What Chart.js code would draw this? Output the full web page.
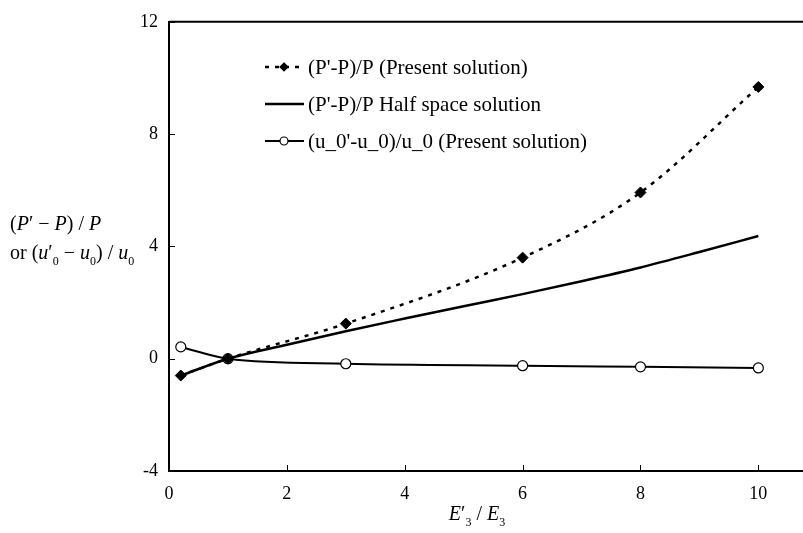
<!DOCTYPE html>
<html>
<head>
<meta charset="utf-8">
<script src="https://cdn.jsdelivr.net/npm/chart.js@4/dist/chart.umd.min.js"></script>
<style>
  html, body { margin: 0; padding: 0; background: #fff; overflow: hidden; }
  #wrap { width: 812px; height: 533px; }
</style>
</head>
<body>
<div id="wrap"><canvas id="chart"></canvas></div>
<script>
// data
const xPresent = [0.2, 1, 3, 6, 8, 10];
const pPresent = [-0.6, 0, 1.25, 3.6, 5.92, 9.68];
const uPresent = [0.42, 0, -0.18, -0.25, -0.29, -0.33];
const xHalf = [0.2, 1, 2, 3, 4, 5, 6, 7, 8, 9, 10];
const pHalf = [-0.6, 0, 0.5, 0.98, 1.43, 1.87, 2.3, 2.76, 3.25, 3.8, 4.37];
const xTicks = [0, 2, 4, 6, 8, 10];
const yTicks = [-4, 0, 4, 8, 12];
const legendLabels = [
  "(P'-P)/P (Present solution)",
  "(P'-P)/P Half space solution",
  "(u_0'-u_0)/u_0 (Present solution)"
];

const SERIF = '"Liberation Serif", "DejaVu Serif", serif';
const pts = (xs, ys) => xs.map((x, i) => ({ x: x, y: ys[i] }));

// draw a run of text pieces: [text, 'n' | 'i' | 'sub']
function drawRich(ctx, parts, x, y, size) {
  let cx = x;
  parts.forEach(([t, s]) => {
    const sub = s === 'sub';
    ctx.font = (s === 'i' ? 'italic ' : '') + (sub ? Math.round(size * 0.62) : size) + 'px ' + SERIF;
    ctx.fillText(t, cx, sub ? y + size * 0.28 : y);
    cx += ctx.measureText(t).width;
  });
  return cx - x;
}
function richWidth(ctx, parts, size) {
  let w = 0;
  parts.forEach(([t, s]) => {
    ctx.font = (s === 'i' ? 'italic ' : '') + (s === 'sub' ? Math.round(size * 0.62) : size) + 'px ' + SERIF;
    w += ctx.measureText(t).width;
  });
  return w;
}

const frame = {
  id: 'frame',
  afterDatasetsDraw(chart) {
    const { ctx, chartArea: a, scales } = chart;
    ctx.save();
    ctx.strokeStyle = '#000';
    ctx.lineWidth = 2;
    ctx.beginPath();
    ctx.moveTo(a.left, a.top);
    ctx.lineTo(a.right, a.top);
    ctx.stroke();
    // inward tick marks
    ctx.lineWidth = 1;
    ctx.beginPath();
    yTicks.forEach(v => {
      const y = Math.round(scales.y.getPixelForValue(v)) + 0.5;
      ctx.moveTo(a.left, y); ctx.lineTo(a.left + 6, y);
    });
    xTicks.forEach(v => {
      const x = Math.round(scales.x.getPixelForValue(v)) + 0.5;
      ctx.moveTo(x, a.bottom); ctx.lineTo(x, a.bottom - 6);
    });
    ctx.stroke();

    // legend
    ctx.fillStyle = '#000';
    ctx.textBaseline = 'middle';
    ctx.textAlign = 'left';
    const rows = [67, 104, 141];
    const ds = chart.data.datasets;
    rows.forEach((ry, i) => {
      const d = ds[i];
      ctx.strokeStyle = '#000';
      ctx.lineWidth = d.borderWidth;
      ctx.setLineDash(d.borderDash || []);
      ctx.beginPath();
      ctx.moveTo(265, ry); ctx.lineTo(304, ry);
      ctx.stroke();
      ctx.setLineDash([]);
      if (d.pointRadius > 0) {
        ctx.lineWidth = 1.2;
        ctx.fillStyle = d.pointBackgroundColor;
        ctx.beginPath();
        if (d.pointStyle === 'rectRot') {
          const r = 4;
          ctx.moveTo(284, ry - r); ctx.lineTo(284 + r, ry); ctx.lineTo(284, ry + r); ctx.lineTo(284 - r, ry);
          ctx.closePath();
        } else {
          ctx.arc(284, ry, 4, 0, Math.PI * 2);
        }
        ctx.fill(); ctx.stroke();
      }
      ctx.fillStyle = '#000';
      ctx.font = '21px ' + SERIF;
      ctx.fillText(d.label, 308, ry + 1);
    });

    // axis titles
    ctx.textBaseline = 'alphabetic';
    const l1 = [['(', 'n'], ['P', 'i'], ['\u2032', 'n'], [' \u2212 ', 'n'], ['P', 'i'], [') / ', 'n'], ['P', 'i']];
    const l2 = [['or (', 'n'], ['u', 'i'], ['\u2032', 'n'], ['0', 'sub'], [' \u2212 ', 'n'], ['u', 'i'], ['0', 'sub'], [') / ', 'n'], ['u', 'i'], ['0', 'sub']];
    drawRich(ctx, l1, 10, 230, 20);
    drawRich(ctx, l2, 10, 259, 20);
    const xt = [['E', 'i'], ['\u2032', 'n'], ['3', 'sub'], [' / ', 'n'], ['E', 'i'], ['3', 'sub']];
    const w = richWidth(ctx, xt, 20);
    drawRich(ctx, xt, 477 - w / 2, 520, 20);
    ctx.restore();
  }
};

new Chart(document.getElementById('chart'), {
  type: 'scatter',
  data: {
    datasets: [
      {
        label: legendLabels[0],
        data: pts(xPresent, pPresent),
        showLine: true,
        borderColor: '#000',
        borderWidth: 2.5,
        borderDash: [4, 6],
        cubicInterpolationMode: 'monotone',
        pointStyle: 'rectRot',
        pointRadius: 5.5,
        pointBackgroundColor: '#000',
        pointBorderColor: '#000',
        pointBorderWidth: 1
      },
      {
        label: legendLabels[1],
        data: pts(xHalf, pHalf),
        showLine: true,
        borderColor: '#000',
        borderWidth: 2.5,
        cubicInterpolationMode: 'monotone',
        pointRadius: 0
      },
      {
        label: legendLabels[2],
        data: pts(xPresent, uPresent),
        showLine: true,
        borderColor: '#000',
        borderWidth: 2,
        cubicInterpolationMode: 'monotone',
        pointStyle: 'circle',
        pointRadius: 5,
        pointBackgroundColor: '#fff',
        pointBorderColor: '#000',
        pointBorderWidth: 1.2
      }
    ]
  },
  options: {
    responsive: true,
    maintainAspectRatio: false,
    animation: false,
    layout: { padding: { top: 14, right: 0, left: 0, bottom: 0 } },
    plugins: { legend: { display: false }, tooltip: { enabled: false } },
    scales: {
      x: {
        type: 'linear',
        min: 0,
        max: 10.8,
        afterBuildTicks: s => { s.ticks = xTicks.map(v => ({ value: v })); },
        afterFit: s => { s.height = 62; },
        grid: { display: false, drawTicks: false },
        border: { display: true, color: '#000', width: 2 },
        ticks: { padding: 12, color: '#000', font: { family: SERIF, size: 18 }, maxRotation: 0 }
      },
      y: {
        min: -4,
        max: 12,
        afterBuildTicks: s => { s.ticks = yTicks.map(v => ({ value: v })); },
        afterFit: s => { s.width = 169; },
        grid: { display: false, drawTicks: false },
        border: { display: true, color: '#000', width: 2 },
        ticks: { padding: 11, color: '#000', font: { family: SERIF, size: 18 } }
      }
    }
  },
  plugins: [frame]
});
</script>
</body>
</html>
